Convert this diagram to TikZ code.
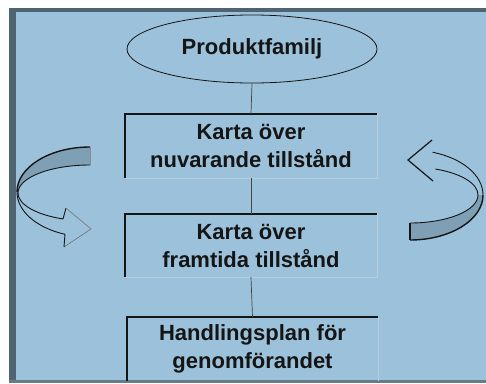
\documentclass[tikz,border=0pt]{standalone}
\usepackage{fontspec}
\setmainfont{Liberation Sans}
\usetikzlibrary{shapes.geometric}

\definecolor{panelblue}{HTML}{9CC2DB}
\definecolor{framegray}{HTML}{4E6472}
\definecolor{bandfill}{HTML}{7E9FB4}
\definecolor{edgegray}{HTML}{B8CCDA}
\definecolor{inkdark}{HTML}{151515}

\tikzset{
  label text/.style={font=\bfseries\fontsize{22}{28}\selectfont, text=inkdark, align=center},
  stepbox/.style={label text, rectangle, inner sep=0pt, minimum width=252pt},
  heavy edge/.style={draw=inkdark, line width=1.8pt},
  light edge/.style={draw=edgegray, line width=0.8pt},
  link/.style={draw=inkdark!80, line width=0.7pt},
  ribbon/.style={draw=inkdark, line width=0.9pt},
  ribbon band/.style={fill=bandfill},
}

\begin{document}
\begin{tikzpicture}[x=1pt, y=-1pt]
\useasboundingbox (0,0) rectangle (486,383);

% background, panel and frame
\fill[white] (0,0) rectangle (486,383);
\fill[panelblue] (9,8) rectangle (486,383);
\fill[framegray] (9,8) rectangle (16,383);
\fill[framegray] (9,8) rectangle (486,12);
\fill[framegray!85] (9,380) rectangle (486,383);

% flow nodes
\node[label text, ellipse, draw=inkdark, line width=0.8pt, minimum width=250pt,
      minimum height=68pt, inner sep=0pt] (fam) at (252,49) {Produktfamilj};
\node[stepbox, minimum height=64pt] (now) at (251,146) {Karta över\\nuvarande tillstånd};
\node[stepbox, minimum height=63pt] (future) at (251,245.5) {Karta över\\framtida tillstånd};
\node[stepbox, minimum height=64pt, minimum width=251pt] (plan) at (252.5,349) {Handlingsplan för\\genomförandet};

% box edges: dark top/left, faint bottom/right
\foreach \b in {now, future}{
  \draw[light edge] (\b.north east) -- (\b.south east) -- (\b.south west);
  \draw[heavy edge] (\b.south west) -- (\b.north west) -- (\b.north east);
}
\draw[light edge] (plan.north east) -- (plan.south east);
\draw[heavy edge] (plan.south west) -- (plan.north west) -- (plan.north east);

% connectors
\draw[link] (fam.south) -- (now.north);
\draw[link] (now.south) -- (future.north);
\draw[link] (future.south) -- (plan.north);

% left curved arrow
\fill[ribbon band] (90,147) arc[start angle=270, end angle=180, x radius=73, y radius=45]
  -- (18,193) arc[start angle=180, end angle=270, x radius=72, y radius=28] -- cycle;
\draw[ribbon, line width=1.4pt] (90,147) arc[start angle=270, end angle=180, x radius=73, y radius=45];
\draw[ribbon] (17,192) arc[start angle=180, end angle=110, x radius=73, y radius=45];
\draw[ribbon] (90,165) arc[start angle=270, end angle=112, x radius=72, y radius=28];
\draw[ribbon, draw=inkdark!50, line width=0.6pt] (90,147) -- (90,165);
\draw[ribbon] (63,219) -- (66,208);
\draw[ribbon, draw=inkdark!60, line width=0.6pt] (66,208) -- (91,229) -- (64,247);
\draw[ribbon] (64,247) -- (65,234);

% right curved arrow
\fill[ribbon band] (483,195) arc[start angle=0, end angle=90, x radius=73, y radius=45]
  -- (410,223) arc[start angle=90, end angle=0, x radius=68, y radius=28] -- cycle;
\draw[ribbon, line width=1.4pt] (483,195) arc[start angle=0, end angle=90, x radius=73, y radius=45];
\draw[ribbon] (483,195) arc[start angle=0, end angle=-72, x radius=73, y radius=45];
\draw[ribbon] (478,195) arc[start angle=0, end angle=-68, x radius=68, y radius=28];
\draw[ribbon] (410,223) arc[start angle=90, end angle=0, x radius=68, y radius=28];
\draw[ribbon, line width=1.4pt] (410,223) -- (410,240);
\draw[ribbon, line width=1.2pt] (432,140) -- (408,160) -- (433,181);
\end{tikzpicture}
\end{document}
